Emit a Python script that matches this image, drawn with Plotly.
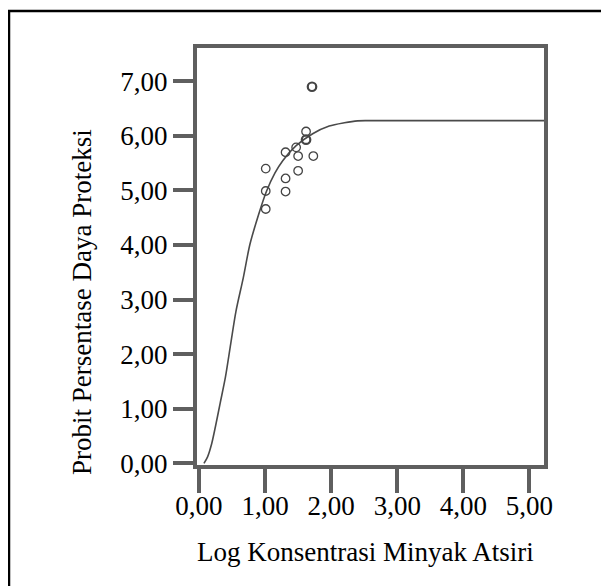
import plotly.graph_objects as go

# Observed points (log concentration, probit % protection)
obs_x = [1.71, 1.62, 1.62, 1.47, 1.31, 1.50, 1.73, 1.01, 1.50, 1.31, 1.01, 1.31, 1.01]
obs_y = [6.90, 6.08, 5.93, 5.79, 5.70, 5.63, 5.63, 5.40, 5.36, 5.22, 4.99, 4.98, 4.66]
obs_weight = [2.2, 1.3, 2.2, 1.3, 1.3, 1.3, 1.3, 1.3, 1.3, 1.3, 1.3, 1.3, 1.3]

# Fitted curve
fit_x = [0.075, 0.13, 0.19, 0.25, 0.32, 0.40, 0.48, 0.56, 0.67, 0.77, 0.90, 1.02, 1.15, 1.27, 1.47, 1.72, 1.97, 2.20, 2.40, 2.55, 5.22]
fit_y = [0.00, 0.12, 0.35, 0.68, 1.10, 1.58, 2.19, 2.79, 3.40, 4.01, 4.55, 4.98, 5.32, 5.55, 5.82, 6.04, 6.18, 6.24, 6.275, 6.28, 6.28]

x_ticks = [0, 1, 2, 3, 4, 5]
y_ticks = [0, 1, 2, 3, 4, 5, 6, 7]

FONT = "Liberation Serif"
FRAME = "#5f5f5f"
FS = 27

fig = go.Figure()
fig.add_trace(go.Scatter(x=fit_x, y=fit_y, mode="lines",
                         line=dict(color="#4a4a4a", width=1.6, shape="spline", smoothing=0.8),
                         hoverinfo="skip", showlegend=False))
fig.add_trace(go.Scatter(x=obs_x, y=obs_y, mode="markers",
                         marker=dict(symbol="circle-open", size=8.5, color="#444444",
                                     line=dict(color="#444444", width=obs_weight)),
                         showlegend=False))

# page body adds an 8px offset; target pixel positions are given in window coords
OFF = 8
W, H = 609 - OFF, 586 - OFF
L, T = 197 - OFF, 48 - OFF
R = W - (544 - OFF)
B = H - (465 - OFF)

fig.update_layout(
    width=W, height=H,
    margin=dict(l=L, r=R, t=T, b=B, pad=0),
    paper_bgcolor="white", plot_bgcolor="white",
    separators=",.",
    font=dict(family=FONT, size=FS, color="black"),
    showlegend=False,
)
fig.update_xaxes(range=[-0.03, 5.22], tickvals=x_ticks, tickformat=".2f",
                 showgrid=False, zeroline=False,
                 showline=True, linecolor=FRAME, linewidth=4, mirror=True,
                 ticks="outside", ticklen=24, tickwidth=4, tickcolor=FRAME,
                 ticklabelstandoff=-10,
                 tickfont=dict(family=FONT, size=FS, color="black"))
fig.update_yaxes(range=[-0.03, 7.61], tickvals=y_ticks, tickformat=".2f",
                 showgrid=False, zeroline=False,
                 showline=True, linecolor=FRAME, linewidth=4, mirror=True,
                 ticks="outside", ticklen=20, tickwidth=4, tickcolor=FRAME,
                 tickfont=dict(family=FONT, size=FS, color="black"))

pw, ph = W - L - R, H - T - B
def px(X):
    return (X - OFF - L) / pw
def py(Y):
    return (H - B - (Y - OFF)) / ph

fig.add_annotation(text="Log Konsentrasi Minyak Atsiri", xref="paper", yref="paper",
                   x=px(365), y=py(552), showarrow=False, xanchor="center", yanchor="middle",
                   font=dict(family=FONT, size=FS, color="black"))
fig.add_annotation(text="Probit Persentase Daya Proteksi", xref="paper", yref="paper",
                   x=px(82), y=py(302), showarrow=False, xanchor="center", yanchor="middle",
                   textangle=-90, font=dict(family=FONT, size=FS, color="black"))

# outer border (top and left edges visible)
fig.add_shape(type="path", xref="paper", yref="paper",
              path=f"M {px(9)} {py(600)} L {px(9)} {py(11)} L {px(620)} {py(11)}",
              line=dict(color="black", width=2.5))

fig.write_html("out.html")
